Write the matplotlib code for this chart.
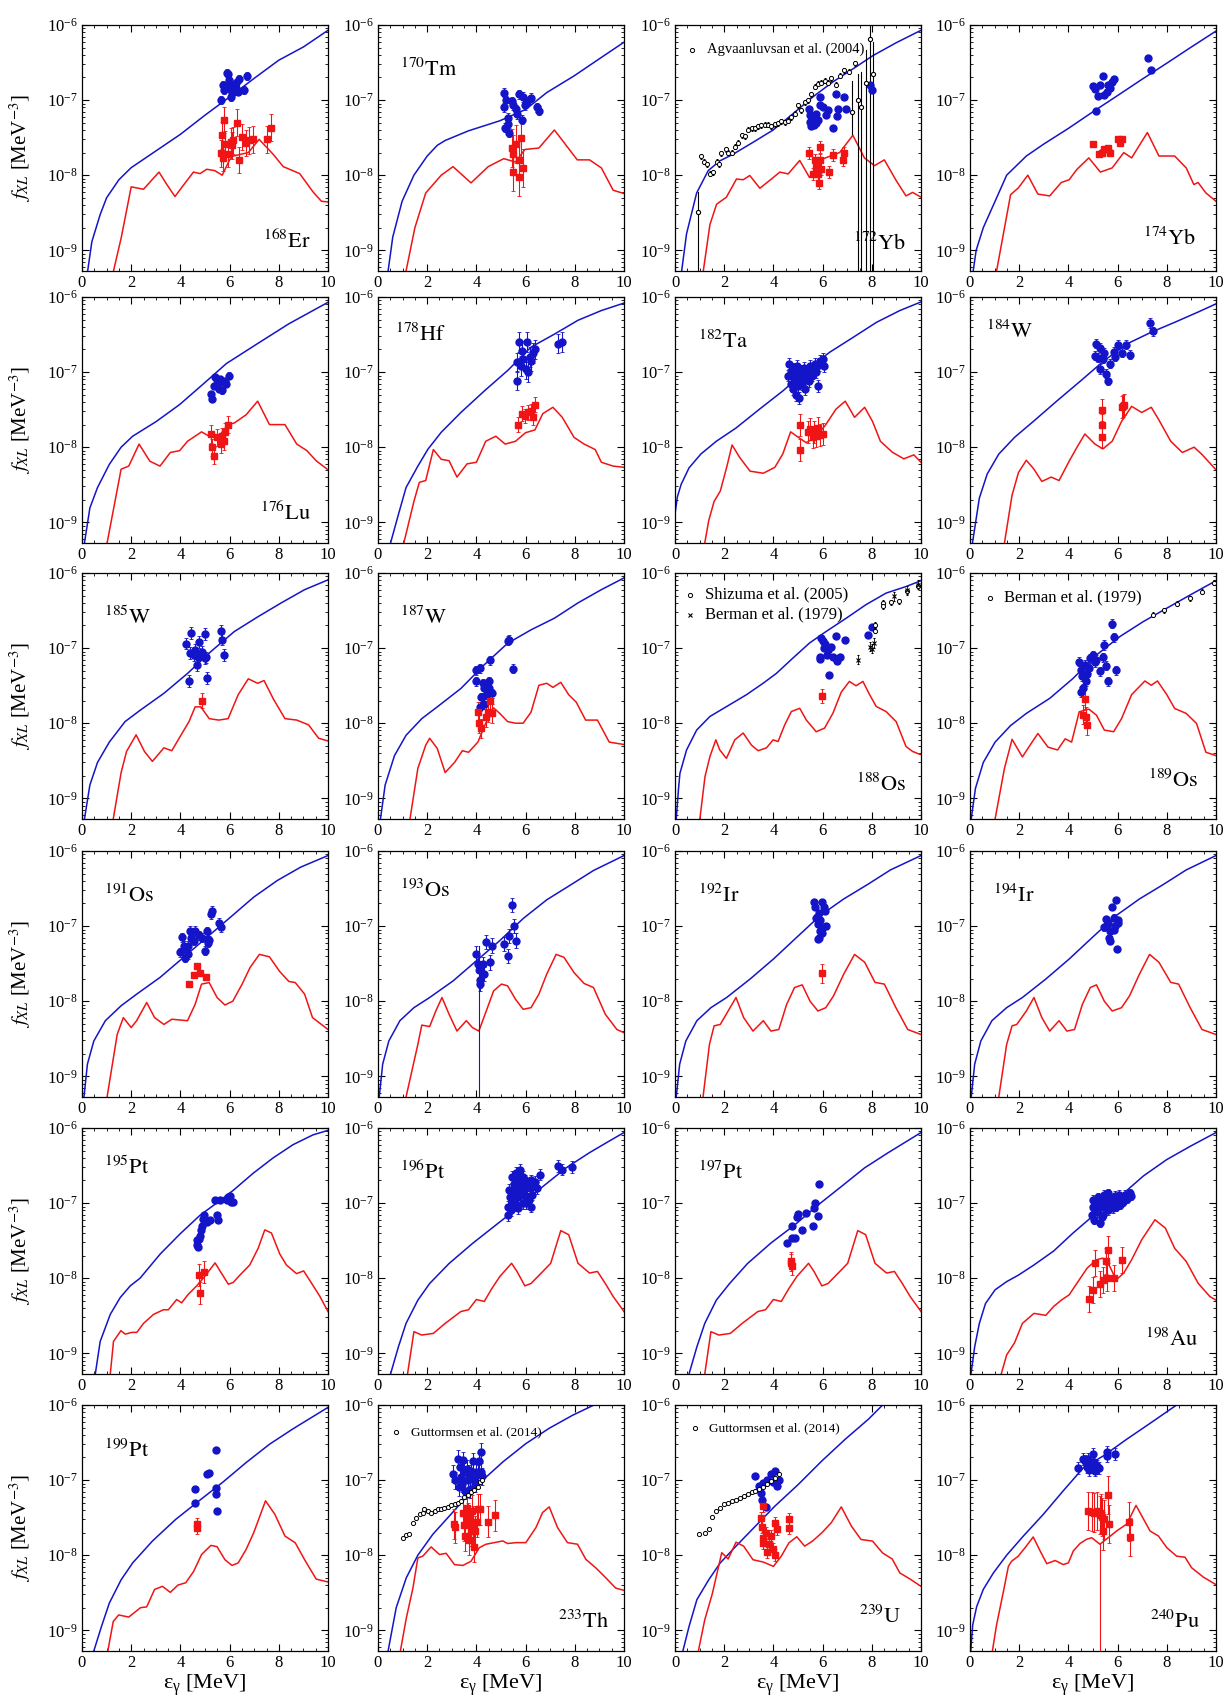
import numpy as np
import matplotlib
matplotlib.use('Agg')
import matplotlib.pyplot as plt
from matplotlib.ticker import MultipleLocator, LogLocator, NullFormatter, FixedLocator

plt.rcParams['font.family'] = ['Liberation Serif', 'DejaVu Serif']
plt.rcParams['mathtext.fontset'] = 'stix'

BLUE = '#1414c8'
RED = '#f01414'
YMIN, YMAX = 5.3e-10, 1e-6

# ---------------- data: (E [MeV], f [MeV^-3]) ----------------
# 168Er
er168_e1 = [(0.23, 5.3e-10), (0.4, 1.3e-9), (0.74, 3e-9), (1.0, 5e-9), (1.5, 8.7e-9), (2.0, 1.26e-8), (3.0, 2.1e-8),
            (4.0, 3.5e-8), (5.0, 6.3e-8), (6.0, 1.1e-7), (7.0, 1.95e-7), (8.0, 3.4e-7), (9.0, 5.1e-7), (10, 8.5e-7)]
er168_m1 = [(1.28, 5.3e-10), (1.6, 1.5e-9), (2.0, 7e-9), (2.5, 6.5e-9), (3.13, 1.1e-8), (3.45, 7.5e-9), (3.78, 5.2e-9),
            (4.1, 7.2e-9), (4.53, 1.1e-8), (4.8, 1.05e-8), (5.07, 1.2e-8), (5.4, 1.15e-8), (5.7, 1.0e-8), (6.0, 1.6e-8),
            (6.15, 1.8e-8), (6.76, 2.0e-8), (7.2, 3.0e-8), (7.77, 1.9e-8), (8.18, 1.3e-8), (8.85, 1.05e-8), (9.39, 6e-9),
            (9.73, 4.5e-9), (10, 4.4e-9)]
er168_blue = [(5.64, 1e-7), (5.72, 1.6e-7), (5.81, 1.55e-7), (5.88, 2.3e-7), (5.92, 2.2e-7), (5.97, 1.85e-7), (6.01, 1.45e-7),
              (6.04, 1.1e-7), (6.08, 1.55e-7), (6.15, 1.35e-7), (6.19, 1.6e-7), (6.24, 1.7e-7), (6.28, 1.45e-7),
              (6.35, 1.3e-7), (6.39, 1.9e-7), (6.58, 1.37e-7), (6.69, 2.1e-7), (5.77, 1.35e-7), (5.85, 1.45e-7),
              (5.95, 1.5e-7), (6.11, 1.25e-7)]
er168_red = [(5.64, 1.95e-8), (5.68, 3.4e-8), (5.77, 5.4e-8), (5.72, 1.7e-8), (5.81, 2.6e-8), (5.95, 1.9e-8), (6.05, 2.8e-8),
             (6.11, 2.5e-8), (6.15, 2.9e-8), (6.31, 5e-8), (6.38, 1.6e-8), (6.51, 3.2e-8), (6.66, 2.7e-8), (6.8, 2.9e-8),
             (6.96, 3e-8), (7.5, 3e-8), (7.7, 4.3e-8)]

# 170Tm
tm170_e1 = [(0.41, 5.3e-10), (0.6, 1.5e-9), (0.98, 4.5e-9), (1.46, 1e-8), (2.0, 1.8e-8), (2.41, 2.5e-8), (2.73, 2.9e-8),
            (3.68, 3.9e-8), (4.95, 5.3e-8), (6.0, 7.5e-8), (6.86, 1.26e-7), (7.97, 2.1e-7), (9.08, 3.7e-7), (10, 5.9e-7)]
tm170_m1 = [(1.14, 5.3e-10), (1.5, 2e-9), (1.94, 5.8e-9), (2.57, 1e-8), (3.05, 1.3e-8), (3.78, 7.9e-9), (4.48, 1.3e-8),
            (5.11, 1.66e-8), (5.59, 1.5e-8), (5.97, 2.2e-8), (6.54, 2.3e-8), (7.17, 4e-8), (8.1, 1.6e-8), (8.6, 1.6e-8),
            (9.08, 1.25e-8), (9.56, 6.3e-9), (10, 5.7e-9)]
tm170_blue = [(5.11, 1.26e-7), (5.11, 8e-8), (5.17, 4.3e-8), (5.27, 5.8e-8), (5.33, 3.7e-8), (5.43, 9.7e-8), (5.59, 7.5e-8),
              (5.75, 1.2e-7), (5.84, 5.5e-8), (5.97, 8.5e-8), (6.06, 9.5e-8), (6.22, 1.08e-7), (6.48, 8e-8), (6.54, 7.2e-8),
              (5.5, 8.5e-8), (5.65, 6.5e-8), (5.2, 1.0e-7), (5.9, 1.1e-7), (5.3, 4.8e-8)]
tm170_red = [(5.43, 2.3e-8), (5.49, 1.9e-8), (5.59, 2.6e-8), (5.49, 1.1e-8), (5.75, 1.6e-8), (5.81, 3.1e-8), (5.9, 1.25e-8),
             (5.75, 9.6e-9)]

# 172Yb
yb172_e1 = [(0.27, 5.3e-10), (0.47, 1.66e-9), (0.88, 5.8e-9), (1.35, 1.15e-8), (1.82, 1.55e-8), (2.36, 1.9e-8),
            (3.18, 2.75e-8), (3.99, 4e-8), (4.8, 6.6e-8), (5.6, 1.1e-7), (6.42, 1.75e-7), (7.23, 2.6e-7), (8.04, 3.9e-7),
            (8.99, 5.8e-7), (10, 8.5e-7)]
yb172_m1 = [(1.15, 5.3e-10), (1.42, 2.2e-9), (1.69, 4.1e-9), (2.09, 5.1e-9), (2.5, 8.9e-9), (2.77, 8.7e-9), (3.04, 9.9e-9),
            (3.45, 6.7e-9), (3.92, 8.9e-9), (4.26, 1.1e-8), (4.6, 1.04e-8), (5.07, 1.57e-8), (5.47, 9.3e-9), (6.01, 1.65e-8),
            (6.69, 2.0e-8), (7.23, 3.4e-8), (7.7, 1.7e-8), (8.11, 1.34e-8), (8.51, 1.6e-8), (8.99, 8.5e-9), (9.39, 5.3e-9),
            (9.66, 5.9e-9), (10, 5.1e-9)]
yb172_blue = [(5.45, 7.7e-8), (5.47, 6.4e-8), (5.5, 5.1e-8), (5.54, 4.5e-8), (5.6, 4.8e-8), (5.68, 5.6e-8), (5.74, 6.6e-8),
              (5.81, 5.4e-8), (5.88, 1.1e-7), (5.88, 8.5e-8), (6.01, 8e-8), (6.15, 6.3e-8), (6.22, 7.4e-8), (6.42, 4.3e-8),
              (6.53, 1.2e-7), (6.58, 6.2e-8), (6.62, 7.7e-8), (6.89, 1.1e-7), (6.96, 7.7e-8), (7.93, 1.6e-7), (8.01, 1.35e-7),
              (5.55, 6e-8), (5.65, 4.6e-8), (5.72, 5e-8)]
yb172_red = [(5.45, 1.95e-8), (5.6, 1.04e-8), (5.68, 1.6e-8), (5.74, 1.3e-8), (5.81, 1.05e-8), (5.85, 7.8e-9), (5.9, 2.35e-8),
             (5.88, 1.6e-8), (5.95, 1.2e-8), (6.26, 1.1e-8), (6.42, 1.85e-8), (6.82, 1.6e-8), (6.85, 2e-8)]
agv_x = [1.05, 1.18, 1.31, 1.42, 1.53, 1.69, 1.8, 1.89, 2.07, 2.16, 2.3, 2.43, 2.57, 2.74, 2.84, 2.97, 3.11, 3.24, 3.38,
         3.51, 3.65, 3.78, 3.92, 4.05, 4.19, 4.32, 4.46, 4.59, 4.73, 4.86, 5.0, 5.14, 5.27, 5.41, 5.54, 5.68, 5.81, 5.95,
         6.08, 6.22, 6.35, 6.53, 6.69, 6.89, 7.09, 7.32]
agv_y = [1.8e-8, 1.5e-8, 1.4e-8, 1.05e-8, 1.1e-8, 1.5e-8, 1.4e-8, 1.95e-8, 2.2e-8, 2.0e-8, 2.0e-8, 2.4e-8, 2.7e-8, 3.4e-8,
         3.3e-8, 4.0e-8, 4.2e-8, 4.2e-8, 4.5e-8, 4.6e-8, 4.7e-8, 4.7e-8, 4.5e-8, 4.8e-8, 4.9e-8, 5.2e-8, 5.1e-8, 5.3e-8,
         5.9e-8, 6.6e-8, 8.5e-8, 7.3e-8, 9.4e-8, 1.0e-7, 1.2e-7, 1.5e-7, 1.65e-7, 1.7e-7, 1.8e-7, 1.7e-7, 1.95e-7, 1.6e-7,
         2.1e-7, 2.5e-7, 2.4e-7, 3.1e-7]
# points with wide error bars: (E, f, lower, upper)
agv_wide = [(0.95, 3.2e-9, 4e-10, 6e-9), (7.19, 6.9e-8, 3.5e-8, 1.8e-7), (7.42, 1.0e-7, 4e-10, 2.2e-7),
            (7.58, 8.0e-8, 4e-10, 2.4e-7), (7.77, 1.7e-7, 4e-10, 4.6e-7), (7.93, 6.6e-7, 4e-10, 1e-6),
            (8.04, 2.2e-7, 4e-10, 5.9e-7)]

# 174Yb
yb174_e1 = [(0.13, 5.3e-10), (0.25, 1e-9), (0.54, 2e-9), (1.02, 4.5e-9), (1.49, 1e-8), (2.29, 1.8e-8), (3.0, 2.6e-8),
            (4.0, 4.2e-8), (5.0, 7e-8), (6.0, 1.15e-7), (7.0, 1.9e-7), (8.0, 3.1e-7), (9.0, 5.1e-7), (10, 8.3e-7)]
yb174_m1 = [(1.08, 5.3e-10), (1.65, 5.5e-9), (1.97, 6.8e-9), (2.35, 1.0e-8), (2.76, 5.6e-9), (3.24, 5.3e-9), (3.71, 8e-9),
            (4.03, 8.7e-9), (4.35, 1.2e-8), (4.83, 1.7e-8), (5.3, 1.1e-8), (5.78, 1.25e-8), (6.25, 2e-8), (6.57, 1.7e-8),
            (7.21, 3.7e-8), (7.68, 1.8e-8), (8.32, 1.8e-8), (8.79, 1.25e-8), (9.1, 7.5e-9), (9.27, 8e-9), (9.59, 5.8e-9),
            (10, 4.5e-9)]
yb174_blue = [(4.98, 1.55e-7), (5.08, 1.4e-7), (5.14, 7.2e-8), (5.2, 1.15e-7), (5.3, 1.6e-7), (5.4, 2.1e-7), (5.46, 1.17e-7),
              (5.55, 1.3e-7), (5.62, 1.6e-7), (5.71, 1.45e-7), (5.78, 1.75e-7), (5.84, 1.9e-7), (7.24, 3.6e-7), (7.37, 2.5e-7)]
yb174_red = [(4.98, 2.6e-8), (5.24, 1.9e-8), (5.35, 2.0e-8), (5.46, 2.2e-8), (5.62, 2.3e-8), (5.71, 2.0e-8), (6.03, 3.0e-8),
             (6.16, 3.0e-8), (6.1, 2.7e-8)]

# 176Lu
lu176_e1 = [(0.1, 5.3e-10), (0.32, 1.55e-9), (0.63, 2.9e-9), (1.11, 5.9e-9), (1.59, 1e-8), (2.06, 1.4e-8), (3.02, 2.2e-8),
            (3.97, 3.7e-8), (4.92, 6.9e-8), (5.87, 1.3e-7), (7.14, 2.4e-7), (8.41, 4.4e-7), (10, 8.5e-7)]
lu176_m1 = [(1.02, 5.3e-10), (1.59, 5.1e-9), (1.9, 5.6e-9), (2.32, 1.1e-8), (2.76, 6.5e-9), (3.17, 5.6e-9), (3.59, 8.5e-9),
            (3.97, 9e-9), (4.29, 1.2e-8), (4.86, 1.6e-8), (5.17, 1.4e-8), (5.56, 1.4e-8), (5.94, 2e-8), (6.19, 2.1e-8),
            (6.67, 2.7e-8), (7.14, 4.1e-8), (7.62, 2e-8), (8.25, 2e-8), (8.73, 1.1e-8), (9.14, 9e-9), (9.52, 6.6e-9),
            (10, 5e-9)]
lu176_blue = [(5.24, 5.1e-8), (5.3, 4.4e-8), (5.4, 8.5e-8), (5.49, 7e-8), (5.56, 6e-8), (5.65, 7.5e-8), (5.71, 5.7e-8),
              (5.81, 7.7e-8), (5.87, 7e-8), (5.97, 9e-8), (5.35, 6.5e-8), (5.6, 8e-8)]
lu176_red = [(5.24, 1.5e-8), (5.3, 1e-8), (5.37, 7.7e-9), (5.49, 1.35e-8), (5.65, 1.1e-8), (5.71, 1.4e-8), (5.81, 1.6e-8),
             (5.94, 2e-8), (5.78, 1.2e-8)]

# 178Hf
hf178_e1 = [(0.51, 5.3e-10), (0.83, 1.27e-9), (1.14, 2.9e-9), (1.62, 5.6e-9), (2.03, 9.4e-9), (2.57, 1.58e-8),
            (3.37, 2.9e-8), (4.32, 5.6e-8), (5.27, 1.05e-7), (6.22, 2.15e-7), (7.17, 3.2e-7), (8.13, 4.9e-7),
            (9.08, 6.6e-7), (10, 8.3e-7)]
hf178_m1 = [(1.05, 5.3e-10), (1.46, 1.9e-9), (1.68, 3.4e-9), (1.94, 3.6e-9), (2.25, 9.3e-9), (2.57, 6.9e-9), (2.89, 6.6e-9),
            (3.21, 4e-9), (3.62, 6e-9), (4.0, 6.3e-9), (4.38, 1.2e-8), (4.79, 1.4e-8), (5.17, 1.1e-8), (5.59, 1.2e-8),
            (6.0, 1.56e-8), (6.38, 1.7e-8), (6.7, 2.8e-8), (7.11, 3.4e-8), (7.49, 2.5e-8), (7.97, 1.35e-8), (8.38, 1.1e-8),
            (8.83, 9.3e-9), (9.08, 6.3e-9), (9.56, 5.6e-9), (10, 5.4e-9)]
hf178_blue = [(5.65, 1.35e-7), (5.65, 7.7e-8), (5.75, 2.5e-7), (5.84, 1.9e-7), (5.9, 1.5e-7), (6.0, 1.1e-7), (6.06, 2.5e-7),
              (6.1, 1.0e-7), (6.16, 1.6e-7), (6.29, 1.8e-7), (6.38, 2e-7), (7.33, 2.4e-7), (7.49, 2.5e-7), (5.8, 1.2e-7),
              (6.2, 1.4e-7)]
hf178_red = [(5.71, 2e-8), (5.84, 2.8e-8), (5.97, 2.6e-8), (6.1, 2.9e-8), (6.22, 3e-8), (6.38, 3.7e-8), (6.32, 2.5e-8)]

# 182Ta
ta182_e1 = [(0.0, 1.3e-9), (0.1, 2.2e-9), (0.25, 3.2e-9), (0.57, 5.3e-9), (1.05, 8.1e-9), (1.68, 1.2e-8), (2.48, 1.8e-8),
            (3.43, 3.2e-8), (4.38, 5.6e-8), (5.33, 1.05e-7), (6.29, 1.84e-7), (7.24, 2.9e-7), (8.19, 4.6e-7),
            (9.14, 6.6e-7), (10, 8.6e-7)]
ta182_m1 = [(1.21, 5.3e-10), (1.37, 1.05e-9), (1.59, 1.9e-9), (1.84, 2.6e-9), (2.1, 5.4e-9), (2.32, 1.07e-8), (2.63, 7.3e-9),
            (3.05, 4.8e-9), (3.59, 4.5e-9), (4.06, 5.4e-9), (4.38, 8.1e-9), (4.7, 1.6e-8), (5.02, 1.35e-8), (5.33, 1.15e-8),
            (5.71, 1.35e-8), (6.13, 2e-8), (6.54, 3.2e-8), (6.92, 4.1e-8), (7.3, 2.5e-8), (7.71, 3.4e-8), (8.03, 2.2e-8),
            (8.35, 1.2e-8), (8.83, 8.6e-9), (9.3, 7e-9), (9.71, 7.9e-9), (10, 6.3e-9)]
ta182_blue = [(4.6, 9e-8), (4.65, 1.3e-7), (4.7, 7e-8), (4.72, 1.0e-7), (4.78, 6e-8), (4.8, 1.1e-7), (4.85, 8.5e-8),
              (4.9, 5e-8), (4.92, 7.5e-8), (4.95, 1.2e-7), (5.0, 9.5e-8), (5.02, 6.5e-8), (5.05, 4.5e-8), (5.1, 8e-8),
              (5.12, 1.05e-7), (5.18, 7e-8), (5.2, 9e-8), (5.25, 1.15e-7), (5.3, 6e-8), (5.33, 8.5e-8), (5.4, 1.0e-7),
              (5.45, 7.5e-8), (5.5, 1.2e-7), (5.55, 9e-8), (5.6, 1.1e-7), (5.7, 1.3e-7), (5.75, 1.0e-7), (5.8, 6.5e-8),
              (5.9, 1.4e-7), (6.0, 1.5e-7), (6.05, 1.2e-7), (5.85, 1.25e-7)]
ta182_red = [(5.08, 2e-8), (5.08, 9.1e-9), (5.49, 1.75e-8), (5.59, 1.35e-8), (5.65, 1.6e-8), (5.81, 1.8e-8), (5.9, 1.45e-8),
             (6.03, 1.5e-8), (5.4, 1.6e-8), (5.75, 1.4e-8)]

# 184W
w184_e1 = [(0.1, 5.3e-10), (0.38, 2.1e-9), (0.7, 4.4e-9), (1.17, 8.1e-9), (1.81, 1.35e-8), (2.6, 2.24e-8), (3.56, 4.2e-8),
           (4.51, 7.7e-8), (5.46, 1.43e-7), (6.41, 2.4e-7), (7.37, 3.4e-7), (8.32, 4.6e-7), (9.27, 6.3e-7), (10, 8.1e-7)]
w184_m1 = [(1.4, 5.3e-10), (1.71, 2.3e-9), (1.97, 4.6e-9), (2.29, 6.7e-9), (2.6, 5.1e-9), (2.92, 3.5e-9), (3.3, 4e-9),
           (3.62, 3.6e-9), (4.03, 6.5e-9), (4.35, 1e-8), (4.67, 1.5e-8), (5.08, 1.1e-8), (5.4, 9.5e-9), (5.78, 1.2e-8),
           (6.16, 2.2e-8), (6.57, 3.5e-8), (6.98, 2.9e-8), (7.37, 3.4e-8), (7.68, 2.3e-8), (8.16, 1.2e-8), (8.63, 8.5e-9),
           (9.11, 1e-8), (9.43, 8e-9), (10, 5e-9)]
w184_blue = [(5.08, 1.65e-7), (5.14, 2.4e-7), (5.2, 1.55e-7), (5.3, 1.1e-7), (5.3, 2.1e-7), (5.4, 1.5e-7), (5.52, 9.5e-8),
             (5.62, 7.7e-8), (5.7, 1.3e-7), (5.84, 1.85e-7), (6.03, 2.3e-7), (6.16, 1.8e-7), (6.35, 2.3e-7), (6.51, 1.7e-7),
             (7.3, 4.5e-7), (7.43, 3.5e-7), (5.9, 1.6e-7), (5.45, 1.8e-7)]
w184_red = [(5.37, 3.1e-8), (5.37, 2e-8), (5.37, 1.35e-8), (6.16, 3.4e-8), (6.25, 3.7e-8), (6.2, 3.5e-8)]

# 185W
w185_e1 = [(0.1, 5.3e-10), (0.32, 1.5e-9), (0.63, 3.0e-9), (1.11, 5.6e-9), (1.75, 1.05e-8), (2.38, 1.5e-8), (3.33, 2.5e-8),
           (4.29, 4.6e-8), (5.24, 9e-8), (6.19, 1.66e-7), (7.14, 2.6e-7), (8.1, 4e-7), (9.05, 6e-7), (10, 8.1e-7)]
w185_m1 = [(1.27, 5.3e-10), (1.59, 2.2e-9), (1.81, 4.2e-9), (2.2, 7e-9), (2.54, 4.2e-9), (2.86, 3.1e-9), (3.33, 4.7e-9),
           (3.65, 4.3e-9), (4.03, 7e-9), (4.35, 1.05e-8), (4.6, 1.65e-8), (4.83, 1.65e-8), (5.17, 1.15e-8), (5.56, 1.1e-8),
           (5.94, 1.15e-8), (6.35, 2.4e-8), (6.76, 3.9e-8), (7.14, 3.4e-8), (7.4, 3.7e-8), (7.78, 2.1e-8), (8.25, 1.15e-8),
           (8.73, 1.1e-8), (9.21, 9.5e-9), (9.62, 6.3e-9), (10, 5.8e-9)]
w185_blue = [(4.22, 1.15e-7), (4.35, 3.6e-8), (4.44, 1.6e-7), (4.41, 8.5e-8), (4.54, 8e-8), (4.6, 9.5e-8), (4.67, 6e-8),
             (4.76, 1.2e-7), (4.7, 7.5e-8), (4.86, 9e-8), (4.98, 7.3e-8), (4.98, 1.55e-7), (5.08, 4e-8), (5.05, 7.5e-8),
             (5.65, 1.7e-7), (5.71, 1.3e-7), (5.78, 8e-8)]
w185_red = [(4.86, 2e-8)]

# 187W
w187_e1 = [(0.1, 5.3e-10), (0.29, 1.5e-9), (0.67, 3.7e-9), (1.14, 6.9e-9), (1.78, 1.15e-8), (2.41, 1.65e-8), (3.37, 2.9e-8),
           (4.32, 6e-8), (5.27, 1.16e-7), (6.22, 1.75e-7), (7.17, 2.5e-7), (8.13, 4e-7), (9.08, 6e-7), (10, 8.6e-7)]
w187_m1 = [(1.3, 5.3e-10), (1.62, 2.5e-9), (1.94, 5.1e-9), (2.1, 6.3e-9), (2.41, 4.6e-9), (2.73, 2.2e-9), (3.11, 3e-9),
           (3.43, 4.3e-9), (3.68, 4.1e-9), (4.06, 5.6e-9), (4.38, 1e-8), (4.7, 1.6e-8), (4.95, 1.35e-8), (5.27, 1.05e-8),
           (5.59, 1e-8), (5.9, 1.0e-8), (6.22, 1.4e-8), (6.54, 3.2e-8), (6.86, 3.4e-8), (7.11, 3e-8), (7.43, 3.5e-8),
           (7.75, 2.4e-8), (8.06, 1.9e-8), (8.44, 1.1e-8), (8.92, 1.1e-8), (9.4, 5.6e-9), (10, 5.2e-9)]
w187_blue = [(4.0, 5.1e-8), (4.0, 3.6e-8), (4.16, 5.4e-8), (4.25, 3.4e-8), (4.32, 2.9e-8), (4.38, 2.4e-8), (4.44, 3.2e-8),
             (4.51, 3.6e-8), (4.57, 6.9e-8), (4.63, 2.5e-8), (4.16, 1.65e-8), (4.32, 1.8e-8), (5.27, 1.25e-7),
             (5.33, 1.3e-7), (5.5, 5.3e-8), (4.2, 2.2e-8), (4.5, 2.9e-8)]
w187_red = [(4.06, 1.4e-8), (4.1, 1e-8), (4.19, 8.5e-9), (4.38, 1.2e-8), (4.48, 1.4e-8), (4.57, 2e-8), (4.63, 1.35e-8)]

# 188Os
os188_e1 = [(0.05, 5.3e-10), (0.14, 1.3e-9), (0.2, 2.15e-9), (0.47, 4.4e-9), (0.88, 8.1e-9), (1.42, 1.23e-8),
            (2.09, 1.66e-8), (2.91, 2.4e-8), (3.58, 3.4e-8), (4.12, 4.6e-8), (4.8, 7.4e-8), (5.47, 1.17e-7),
            (6.15, 1.67e-7), (6.96, 2.5e-7), (7.77, 3.8e-7), (8.58, 5.4e-7), (9.39, 6.6e-7), (10, 7.9e-7)]
os188_m1 = [(1.01, 5.3e-10), (1.22, 1.95e-9), (1.42, 3.6e-9), (1.66, 6e-9), (1.82, 4.4e-9), (2.09, 3.4e-9), (2.43, 6e-9),
            (2.77, 7.4e-9), (3.11, 5.1e-9), (3.38, 4.3e-9), (3.72, 4.7e-9), (3.99, 6e-9), (4.19, 5.7e-9), (4.46, 9.5e-9),
            (4.73, 1.43e-8), (5.07, 1.58e-8), (5.34, 1.1e-8), (5.74, 7.7e-9), (6.08, 8.6e-9), (6.42, 1.36e-8),
            (6.76, 2.6e-8), (7.09, 3.6e-8), (7.36, 3.15e-8), (7.64, 3.6e-8), (7.91, 2.4e-8), (8.18, 1.67e-8),
            (8.58, 1.43e-8), (8.99, 1.05e-8), (9.39, 4.9e-9), (9.66, 4.2e-9), (10, 3.8e-9)]
os188_blue = [(5.88, 7.7e-8), (5.9, 7.2e-8), (5.95, 1.36e-7), (6.01, 1.23e-7), (6.04, 1.0e-7), (6.1, 1.15e-7), (6.15, 1.05e-7),
              (6.18, 8.1e-8), (6.22, 9.5e-8), (6.26, 4.4e-8), (6.35, 1.05e-7), (6.42, 7.7e-8), (6.55, 1.45e-7),
              (6.58, 6.8e-8), (6.72, 7.7e-8), (6.92, 1.3e-7), (7.84, 1.5e-7), (8.01, 1.9e-7)]
os188_red = [(5.97, 2.3e-8)]
shiz_x = [8.11, 8.15, 8.45, 8.45, 8.78, 9.12, 9.42, 9.89]
shiz_y = [1.7e-7, 2.05e-7, 4e-7, 3.6e-7, 4.1e-7, 4.2e-7, 5.7e-7, 6.8e-7]
berm188_x = [7.42, 7.93, 8.01, 8.08, 8.92, 9.42, 9.89]
berm188_y = [7e-8, 1.05e-7, 9.8e-8, 1.17e-7, 4.9e-7, 5.9e-7, 7e-7]

# 189Os
os189_e1 = [(0.05, 5.3e-10), (0.22, 1.35e-9), (0.54, 3e-9), (1.02, 5.6e-9), (1.65, 9.3e-9), (2.29, 1.35e-8), (3.24, 2.14e-8),
            (4.19, 3.95e-8), (5.14, 8.1e-8), (6.1, 1.43e-7), (7.05, 2.26e-7), (8.0, 3.4e-7), (8.95, 5.1e-7), (10, 7.9e-7)]
os189_m1 = [(1.02, 5.3e-10), (1.4, 2.5e-9), (1.71, 6.1e-9), (2.13, 3.55e-9), (2.35, 4.6e-9), (2.76, 7.3e-9), (3.17, 4.8e-9),
            (3.56, 4.4e-9), (3.87, 6.2e-9), (4.13, 5.6e-9), (4.44, 1.42e-8), (4.83, 1.54e-8), (5.14, 1.28e-8),
            (5.46, 8.1e-9), (5.84, 7.7e-9), (6.16, 1.15e-8), (6.57, 2.4e-8), (7.11, 3.65e-8), (7.37, 3.2e-8),
            (7.62, 3.65e-8), (8.0, 2.4e-8), (8.32, 1.57e-8), (8.79, 1.35e-8), (9.21, 9.9e-9), (9.59, 4.1e-9), (10, 3.7e-9)]
os189_blue = [(4.44, 6.6e-8), (4.51, 5.1e-8), (4.57, 4.2e-8), (4.6, 2.9e-8), (4.67, 6e-8), (4.7, 3.6e-8), (4.76, 4.5e-8),
              (4.83, 5.4e-8), (4.89, 7.3e-8), (4.98, 8e-8), (5.08, 6.5e-8), (5.14, 7e-8), (5.3, 4.9e-8), (5.4, 7.5e-8),
              (5.46, 1.1e-7), (5.52, 5.8e-8), (5.62, 3.6e-8), (5.78, 2.1e-7), (5.84, 1.4e-7), (5.94, 5.1e-8),
              (4.51, 2.6e-8)]
os189_red = [(4.67, 2.1e-8), (4.6, 1.3e-8), (4.76, 9.5e-9), (4.7, 1.2e-8)]
berm189_x = [7.43, 7.9, 8.41, 8.95, 9.43, 9.9]
berm189_y = [2.8e-7, 3.2e-7, 3.9e-7, 4.6e-7, 5.6e-7, 7.4e-7]

# 191Os
os191_e1 = [(0.08, 5.3e-10), (0.22, 1.45e-9), (0.48, 2.95e-9), (0.95, 5.5e-9), (1.59, 8.7e-9), (2.22, 1.24e-8),
            (3.17, 2.07e-8), (4.13, 3.84e-8), (5.08, 7.1e-8), (6.03, 1.31e-7), (6.98, 2.43e-7), (7.94, 4.05e-7),
            (8.89, 6.1e-7), (10, 8.7e-7)]
os191_m1 = [(1.02, 5.3e-10), (1.43, 3.6e-9), (1.68, 6.05e-9), (2.0, 4.45e-9), (2.22, 5.5e-9), (2.63, 9.6e-9), (2.95, 6.05e-9),
            (3.33, 4.9e-9), (3.65, 5.75e-9), (4.03, 5.6e-9), (4.29, 5.5e-9), (4.6, 9.1e-9), (4.86, 1.69e-8),
            (5.17, 1.77e-8), (5.49, 1.12e-8), (5.81, 8.9e-9), (6.13, 1.0e-8), (6.51, 1.69e-8), (6.83, 2.8e-8),
            (7.21, 4.2e-8), (7.62, 3.9e-8), (8.03, 2.5e-8), (8.41, 1.83e-8), (8.67, 1.77e-8), (9.05, 1.24e-8),
            (9.37, 6.05e-9), (10, 4.2e-9)]
os191_blue = [(3.97, 4.5e-8), (4.06, 7.1e-8), (4.13, 5.5e-8), (4.19, 3.8e-8), (4.22, 4.9e-8), (4.29, 5.5e-8), (4.38, 8.7e-8),
              (4.44, 7e-8), (4.54, 6.4e-8), (4.6, 8.7e-8), (4.76, 7.5e-8), (4.86, 7e-8), (4.98, 4.7e-8), (5.08, 8.5e-8),
              (5.17, 6.5e-8), (5.24, 1.45e-7), (5.3, 1.6e-7), (5.56, 1.1e-7), (5.65, 9.7e-8), (5.08, 6.8e-8), (4.3, 4.2e-8),
              (5.12, 6e-8)]
os191_red = [(4.35, 1.7e-8), (4.54, 2.2e-8), (4.67, 2.9e-8), (4.79, 2.4e-8), (5.05, 2.1e-8)]

# 193Os
os193_e1 = [(0.05, 5.3e-10), (0.19, 1.45e-9), (0.44, 2.95e-9), (0.89, 5.5e-9), (1.46, 8.2e-9), (2.1, 1.12e-8),
            (3.05, 1.86e-8), (4.0, 3.45e-8), (4.95, 6.4e-8), (5.9, 1.26e-7), (6.86, 2.24e-7), (7.81, 3.5e-7),
            (8.76, 5.5e-7), (10, 8.7e-7)]
os193_m1 = [(1.14, 5.3e-10), (1.62, 2.66e-9), (1.78, 4.8e-9), (2.1, 4.6e-9), (2.35, 7.4e-9), (2.6, 1.12e-8), (2.89, 6.7e-9),
            (3.21, 4.0e-9), (3.59, 5.5e-9), (3.84, 4.45e-9), (4.1, 4.0e-9), (4.38, 7.1e-9), (4.7, 1.37e-8),
            (5.02, 1.69e-8), (5.27, 1.6e-8), (5.59, 1.06e-8), (5.9, 7.8e-9), (6.22, 8.2e-9), (6.54, 1.24e-8),
            (6.86, 2.3e-8), (7.24, 4.2e-8), (7.56, 3.84e-8), (7.97, 2.4e-8), (8.38, 1.72e-8), (8.76, 1.52e-8),
            (9.24, 6.7e-9), (9.71, 4.2e-9), (10, 3.8e-9)]
os193_blue = [(4.0, 4.3e-8), (4.06, 3.1e-8), (4.16, 1.9e-8), (4.16, 1.7e-8), (4.25, 3.1e-8), (4.32, 2.3e-8), (4.38, 6.1e-8),
              (4.54, 3.3e-8), (4.63, 5.5e-8), (5.11, 5.8e-8), (5.27, 4e-8), (5.33, 7.4e-8), (5.43, 1.9e-7), (5.52, 1.0e-7),
              (5.59, 6.4e-8)]
os193_wide = [(4.1, 2.6e-8, 4e-10, 5.5e-8)]

# 192Ir
ir192_e1 = [(0.05, 5.3e-10), (0.19, 1.45e-9), (0.44, 2.95e-9), (0.89, 5.5e-9), (1.46, 8.2e-9), (2.1, 1.12e-8),
            (3.05, 1.97e-8), (4.0, 3.64e-8), (4.95, 7.1e-8), (5.9, 1.38e-7), (6.86, 2.3e-7), (7.81, 3.55e-7),
            (8.76, 5.6e-7), (10, 8.7e-7)]
ir192_m1 = [(1.14, 5.3e-10), (1.4, 2.66e-9), (1.59, 4.7e-9), (1.84, 4.9e-9), (2.16, 7.4e-9), (2.48, 1.12e-8), (2.79, 6.05e-9),
            (3.17, 4e-9), (3.59, 5.5e-9), (3.9, 4e-9), (4.22, 4.2e-9), (4.54, 9.1e-9), (4.86, 1.52e-8), (5.17, 1.65e-8),
            (5.49, 1.0e-8), (5.81, 7.4e-9), (6.13, 8.2e-9), (6.44, 1.17e-8), (6.86, 2.3e-8), (7.3, 4.2e-8), (7.71, 3.3e-8),
            (8.13, 1.78e-8), (8.51, 1.69e-8), (8.98, 8.2e-9), (9.46, 4.2e-9), (10, 3.6e-9)]
ir192_blue = [(5.65, 2.1e-7), (5.71, 1.8e-7), (5.75, 1.3e-7), (5.81, 1.07e-7), (5.87, 1.5e-7), (5.9, 8.7e-8), (5.81, 6.7e-8),
              (5.97, 2.1e-7), (6.03, 9.6e-8), (6.06, 1.8e-7), (6.13, 1.0e-7), (5.84, 7e-8), (5.97, 8.2e-8), (5.9, 1.2e-7),
              (6.1, 1.6e-7)]
ir192_red = [(5.97, 2.35e-8)]

# 194Ir
ir194_e1 = [(0.05, 5.3e-10), (0.19, 1.45e-9), (0.44, 2.95e-9), (0.89, 5.5e-9), (1.49, 8.2e-9), (2.13, 1.12e-8),
            (3.08, 1.97e-8), (4.03, 3.64e-8), (4.98, 7.1e-8), (5.94, 1.38e-7), (6.89, 2.3e-7), (7.84, 3.55e-7),
            (8.79, 5.6e-7), (10, 8.7e-7)]
ir194_m1 = [(1.17, 5.3e-10), (1.49, 2.66e-9), (1.71, 4.7e-9), (1.9, 4.9e-9), (2.29, 7.4e-9), (2.6, 1.12e-8), (2.92, 6.05e-9),
            (3.24, 4e-9), (3.62, 5.5e-9), (3.94, 4e-9), (4.25, 4.2e-9), (4.57, 9.1e-9), (4.89, 1.52e-8), (5.14, 1.65e-8),
            (5.46, 1.0e-8), (5.78, 7.4e-9), (6.16, 8.2e-9), (6.48, 1.17e-8), (6.89, 2.3e-8), (7.3, 4.2e-8), (7.68, 3.3e-8),
            (8.16, 1.78e-8), (8.48, 1.69e-8), (8.95, 8.2e-9), (9.43, 4.2e-9), (10, 3.6e-9)]
ir194_blue = [(5.46, 9.6e-8), (5.52, 1.25e-7), (5.62, 1.1e-7), (5.65, 7e-8), (5.71, 8.7e-8), (5.78, 1.8e-7), (5.84, 1.3e-7),
              (5.9, 1.0e-7), (5.94, 2.2e-7), (6.03, 1.2e-7), (5.97, 4.9e-8), (5.71, 6.4e-8), (5.84, 9e-8), (5.55, 1.05e-7),
              (6.0, 1.1e-7)]

# 195Pt
pt195_e1 = [(0.54, 5.3e-10), (0.74, 1.44e-9), (1.15, 3.3e-9), (1.55, 5.5e-9), (1.96, 7.9e-9), (2.36, 1e-8), (3.18, 2.1e-8),
            (3.99, 3.9e-8), (4.8, 6.9e-8), (5.47, 1e-7), (6.15, 1.48e-7), (6.96, 2.5e-7), (7.77, 4e-7), (8.58, 6e-7),
            (9.39, 8.1e-7), (10, 9.3e-7)]
pt195_m1 = [(1.15, 5.3e-10), (1.28, 1.44e-9), (1.58, 2.0e-9), (1.76, 1.8e-9), (2.03, 1.9e-9), (2.23, 1.9e-9), (2.5, 2.5e-9),
            (2.91, 3.3e-9), (3.31, 3.8e-9), (3.51, 3.8e-9), (3.85, 5.2e-9), (4.05, 4.7e-9), (4.32, 6.1e-9), (4.66, 7.9e-9),
            (4.93, 1.0e-8), (5.2, 1.3e-8), (5.41, 1.6e-8), (5.61, 1.25e-8), (5.95, 8.3e-9), (6.15, 8.8e-9), (6.42, 1.1e-8),
            (6.82, 1.5e-8), (7.16, 2.5e-8), (7.43, 4.4e-8), (7.7, 4e-8), (8.04, 2.1e-8), (8.31, 1.5e-8), (8.72, 1.15e-8),
            (9.01, 1.25e-8), (9.32, 8.7e-9), (9.66, 5.8e-9), (10, 3.6e-9)]
pt195_blue = [(4.66, 3.2e-8), (4.69, 2.8e-8), (4.73, 2.6e-8), (4.76, 3.3e-8), (4.8, 3.7e-8), (4.84, 4.4e-8), (4.88, 5e-8),
              (4.93, 6.2e-8), (4.96, 6.9e-8), (5.01, 5.8e-8), (5.09, 5.6e-8), (5.2, 5.9e-8), (5.41, 1.1e-7), (5.47, 7e-8),
              (5.54, 6e-8), (5.61, 1.1e-7), (5.88, 1.1e-7), (5.95, 1.2e-7), (6.01, 1.25e-7), (6.05, 1.03e-7),
              (6.12, 1.03e-7)]
pt195_red = [(4.76, 1.1e-8), (4.8, 6.4e-9), (4.96, 1.2e-8)]

# 196Pt
pt196_e1 = [(0.51, 5.3e-10), (0.83, 1.22e-9), (1.14, 2.5e-9), (1.62, 5.1e-9), (2.1, 8.5e-9), (2.89, 1.57e-8), (3.84, 2.9e-8),
            (4.79, 5.1e-8), (5.75, 9e-8), (6.7, 1.66e-7), (7.65, 2.95e-7), (8.6, 4.7e-7), (9.4, 6.7e-7), (10, 8.7e-7)]
pt196_m1 = [(1.2, 5.3e-10), (1.46, 1.94e-9), (1.78, 1.75e-9), (2.25, 1.84e-9), (2.73, 2.5e-9), (3.37, 3.6e-9), (3.68, 3.8e-9),
            (4.0, 5.2e-9), (4.32, 4.9e-9), (4.63, 7.3e-9), (4.95, 1.05e-8), (5.43, 1.58e-8), (5.65, 1.23e-8),
            (5.97, 7.9e-9), (6.22, 8.5e-9), (6.7, 1.23e-8), (7.02, 1.58e-8), (7.43, 4.3e-8), (7.75, 3.8e-8),
            (8.13, 1.58e-8), (8.6, 1.17e-8), (8.92, 1.23e-8), (9.24, 8.5e-9), (9.56, 5.7e-9), (10, 3.6e-9)]
pt196_blue = [(5.27, 7e-8), (5.3, 9e-8), (5.33, 1.5e-7), (5.38, 1.2e-7), (5.43, 2.2e-7), (5.45, 1.05e-7), (5.5, 1.4e-7),
              (5.52, 1.8e-7), (5.55, 1.1e-7), (5.59, 2.5e-7), (5.62, 1.6e-7), (5.65, 1.2e-7), (5.68, 1.9e-7),
              (5.71, 1.45e-7), (5.75, 2.1e-7), (5.78, 2.8e-7), (5.8, 1.3e-7), (5.84, 1.7e-7), (5.88, 2.2e-7), (5.9, 1.0e-7),
              (5.95, 1.5e-7), (5.97, 2e-7), (6.02, 1.25e-7), (6.08, 1.8e-7), (6.12, 1.1e-7), (6.16, 1.6e-7), (6.22, 2.0e-7),
              (6.28, 1.3e-7), (6.32, 1.7e-7), (6.4, 1.9e-7), (6.48, 1.6e-7), (6.6, 2.4e-7), (7.33, 3.1e-7), (7.49, 2.8e-7),
              (7.87, 3e-7), (5.4, 8e-8), (5.6, 9.5e-8), (5.7, 8.5e-8), (6.0, 1.0e-7), (6.2, 9e-8)]

# 197Pt
pt197_e1 = [(0.57, 5.3e-10), (0.89, 1.22e-9), (1.21, 2.5e-9), (1.68, 5.1e-9), (2.22, 8.5e-9), (2.95, 1.57e-8),
            (3.9, 2.94e-8), (4.86, 5.1e-8), (5.81, 9.4e-8), (6.76, 1.66e-7), (7.71, 2.95e-7), (8.67, 4.7e-7), (10, 8.7e-7)]
pt197_m1 = [(1.21, 5.3e-10), (1.46, 1.94e-9), (1.78, 1.75e-9), (2.25, 1.84e-9), (2.73, 2.5e-9), (3.37, 3.6e-9),
            (3.68, 3.8e-9), (4.0, 5.2e-9), (4.32, 4.9e-9), (4.63, 7.3e-9), (4.95, 1.05e-8), (5.43, 1.58e-8),
            (5.65, 1.23e-8), (5.97, 7.9e-9), (6.22, 8.5e-9), (6.7, 1.23e-8), (7.02, 1.58e-8), (7.43, 4.3e-8),
            (7.75, 3.8e-8), (8.13, 1.58e-8), (8.6, 1.17e-8), (8.92, 1.23e-8), (9.24, 8.5e-9), (9.56, 5.7e-9), (10, 3.6e-9)]
pt197_blue = [(4.54, 2.9e-8), (4.76, 3.4e-8), (4.76, 5e-8), (4.86, 3.4e-8), (4.95, 6.5e-8), (5.02, 7.1e-8), (5.17, 4.4e-8),
              (5.33, 7.4e-8), (5.59, 5e-8), (5.65, 8.5e-8), (5.71, 1e-7), (5.81, 6.7e-8), (5.87, 1.8e-7)]
pt197_red = [(4.7, 1.7e-8), (4.76, 1.45e-8), (4.73, 1.6e-8)]

# 198Au
au198_e1 = [(0.04, 5.3e-10), (0.19, 1.22e-9), (0.38, 2.5e-9), (0.63, 4.6e-9), (1.02, 7e-9), (1.49, 9e-9), (1.97, 1.1e-8),
            (2.6, 1.5e-8), (3.4, 2.3e-8), (4.19, 4e-8), (5.14, 7.4e-8), (6.1, 1.23e-7), (7.05, 2.3e-7), (8.0, 3.8e-7),
            (8.95, 5.7e-7), (10, 8.7e-7)]
au198_m1 = [(1.27, 5.3e-10), (1.49, 9.5e-10), (1.81, 1.38e-9), (2.13, 2.5e-9), (2.6, 3.4e-9), (3.08, 3.2e-9), (3.4, 4.2e-9),
            (3.71, 5.1e-9), (4.03, 6e-9), (4.35, 8.6e-9), (4.76, 1.36e-8), (5.14, 1.76e-8), (5.4, 1.85e-8),
            (5.62, 1.58e-8), (5.94, 9.5e-9), (6.25, 1.17e-8), (6.57, 1.76e-8), (6.98, 3.25e-8), (7.52, 6e-8),
            (7.94, 4.65e-8), (8.32, 2.5e-8), (8.79, 1.67e-8), (9.27, 8.6e-9), (9.75, 5.7e-9), (10, 5.1e-9)]
au198_blue = [(4.95, 7e-8), (4.98, 9e-8), (5.0, 1.1e-7), (5.05, 6e-8), (5.08, 8e-8), (5.12, 1.0e-7), (5.15, 7.5e-8),
              (5.2, 1.2e-7), (5.25, 8.5e-8), (5.3, 5.5e-8), (5.33, 9.5e-8), (5.38, 1.1e-7), (5.42, 7e-8), (5.45, 1.3e-7),
              (5.5, 9e-8), (5.55, 1.05e-7), (5.6, 8e-8), (5.65, 1.2e-7), (5.7, 9.5e-8), (5.75, 1.15e-7), (5.8, 8.5e-8),
              (5.85, 1.0e-7), (5.9, 1.25e-7), (5.95, 9e-8), (6.0, 1.1e-7), (6.05, 1.3e-7), (6.1, 9.5e-8), (6.15, 1.2e-7),
              (6.2, 1.05e-7), (6.3, 1.3e-7), (6.4, 1.15e-7), (6.5, 1.35e-7), (6.55, 1.25e-7), (5.35, 6.5e-8),
              (5.6, 1.35e-7)]
au198_red = [(4.83, 5.3e-9), (4.98, 7e-9), (5.08, 1.6e-8), (5.3, 8.3e-9), (5.4, 9.5e-9), (5.52, 1.7e-8), (5.62, 2.4e-8),
             (5.56, 1e-8), (5.84, 1e-8), (6.16, 1.75e-8)]

# 199Pt
pt199_e1 = [(0.48, 5.3e-10), (0.79, 1.12e-9), (1.11, 2.3e-9), (1.59, 4.7e-9), (2.06, 7.9e-9), (2.86, 1.54e-8), (3.81, 3e-8),
            (4.76, 5.3e-8), (5.71, 9.3e-8), (6.67, 1.71e-7), (7.62, 3e-7), (8.57, 4.8e-7), (10, 9.3e-7)]
pt199_m1 = [(1.05, 5.3e-10), (1.27, 1.31e-9), (1.49, 1.6e-9), (1.9, 1.5e-9), (2.38, 2e-9), (2.63, 2.05e-9), (2.95, 3.5e-9),
            (3.27, 3.85e-9), (3.59, 3.2e-9), (3.9, 4e-9), (4.22, 4.3e-9), (4.54, 6.1e-9), (4.86, 1.02e-8), (5.24, 1.35e-8),
            (5.49, 1.3e-8), (5.81, 8.7e-9), (6.1, 7.3e-9), (6.35, 7.9e-9), (6.67, 1.19e-8), (6.98, 1.99e-8),
            (7.46, 5.3e-8), (7.84, 3.5e-8), (8.25, 1.8e-8), (8.67, 1.46e-8), (9.05, 8.7e-9), (9.52, 4.8e-9), (10, 4.4e-9)]
pt199_blue = [(4.6, 5e-8), (4.6, 7.7e-8), (5.08, 1.2e-7), (5.17, 1.25e-7), (5.46, 2.5e-7), (5.46, 7.9e-8), (5.46, 6.5e-8),
              (5.49, 3.9e-8)]
pt199_red = [(4.67, 2.6e-8), (4.67, 2.3e-8)]

# 233Th
th233_e1 = [(0.41, 5.3e-10), (0.74, 2e-9), (1.15, 5e-9), (1.62, 1e-8), (2.23, 1.9e-8), (2.91, 3.35e-8), (3.58, 5.9e-8),
            (4.26, 1e-7), (5.07, 1.74e-7), (6.01, 3.06e-7), (6.96, 4.9e-7), (7.91, 7.3e-7), (8.78, 1e-6), (10, 1.5e-6)]
th233_m1 = [(0.91, 5.3e-10), (1.15, 1.45e-9), (1.42, 3.65e-9), (1.62, 9.2e-9), (1.82, 9.7e-9), (2.16, 1.29e-8),
            (2.5, 1.02e-8), (2.77, 1.06e-8), (3.11, 7.5e-9), (3.45, 7.3e-9), (3.78, 8.3e-9), (4.12, 1.26e-8), (4.39, 1.4e-8),
            (4.73, 1.47e-8), (5.07, 1.55e-8), (5.27, 1.43e-8), (5.61, 1.47e-8), (6.01, 1.47e-8), (6.42, 2.33e-8),
            (6.69, 3.7e-8), (6.96, 4.4e-8), (7.3, 2.33e-8), (7.7, 1.47e-8), (8.11, 1.4e-8), (8.45, 8.8e-9), (8.85, 6.8e-9),
            (9.26, 5e-9), (9.66, 3.65e-9), (10, 3.4e-9)]
th233_blue = [(3.04, 1.21e-7), (3.15, 1e-7), (3.24, 1.93e-7), (3.28, 8e-8), (3.34, 1.49e-7), (3.38, 1.09e-7), (3.42, 8.9e-8),
              (3.47, 1.83e-7), (3.51, 1.28e-7), (3.55, 7.2e-8), (3.6, 1.41e-7), (3.65, 1e-7), (3.69, 1.21e-7),
              (3.74, 7.6e-8), (3.8, 1.34e-7), (3.85, 1.78e-7), (3.89, 1.04e-7), (3.95, 8.9e-8), (3.99, 1.28e-7),
              (4.05, 1.21e-7), (4.12, 1.78e-7), (4.19, 1.28e-7), (4.23, 1.12e-7), (4.2, 2.37e-7)]
th233_red = [(3.07, 2.6e-8), (3.11, 2.35e-8), (3.47, 3.7e-8), (3.51, 2.5e-8), (3.55, 1.8e-8), (3.61, 4.3e-8), (3.66, 3.1e-8),
             (3.72, 2.6e-8), (3.77, 2.1e-8), (3.82, 3.9e-8), (3.88, 2.8e-8), (3.92, 1.3e-8), (3.96, 2.1e-8), (4.01, 2.8e-8),
             (4.08, 4.1e-8), (4.15, 4.1e-8), (4.46, 2.8e-8), (4.77, 3.4e-8), (3.7, 1.6e-8), (3.85, 2.3e-8)]
gut233_x = [1.01, 1.15, 1.28, 1.42, 1.55, 1.69, 1.82, 1.89, 2.03, 2.16, 2.3, 2.43, 2.57, 2.7, 2.84, 2.97, 3.11, 3.24, 3.38,
            3.51, 3.65, 3.78, 3.92, 4.05, 4.15, 4.23]
gut233_y = [1.7e-8, 1.85e-8, 1.9e-8, 2.7e-8, 3.1e-8, 3.5e-8, 3.7e-8, 4.1e-8, 3.9e-8, 3.7e-8, 3.9e-8, 4.1e-8, 4.1e-8, 4.3e-8,
            4.4e-8, 4.6e-8, 4.8e-8, 5e-8, 5.3e-8, 5.9e-8, 6.4e-8, 6.9e-8, 7.4e-8, 8.1e-8, 9.3e-8, 1e-7]

# 239U
u239_e1 = [(0.32, 5.3e-10), (0.57, 1.12e-9), (0.89, 2.56e-9), (1.37, 4.7e-9), (1.84, 7.9e-9), (2.48, 1.32e-8),
           (3.27, 2.44e-8), (4.06, 4.5e-8), (5.02, 8.8e-8), (5.97, 1.8e-7), (6.92, 3.5e-7), (7.87, 6.5e-7), (8.44, 1e-6),
           (10, 1.9e-6)]
u239_m1 = [(0.95, 5.3e-10), (1.21, 1.38e-9), (1.52, 3.1e-9), (1.9, 1.08e-8), (2.16, 8.9e-9), (2.48, 1.49e-8), (2.79, 1.32e-8),
           (3.17, 8.7e-9), (3.59, 8.1e-9), (4.0, 7.1e-9), (4.32, 9.7e-9), (4.63, 1.46e-8), (4.95, 1.76e-8), (5.27, 1.32e-8),
           (5.59, 1.54e-8), (5.97, 1.99e-8), (6.35, 2.7e-8), (6.76, 4.4e-8), (7.17, 2.44e-8), (7.56, 1.62e-8),
           (8.03, 1.54e-8), (8.44, 1.07e-8), (8.83, 8.9e-9), (9.14, 5.8e-9), (9.56, 4.8e-9), (10, 3.85e-9)]
u239_blue = [(3.27, 1.14e-7), (3.43, 8.4e-8), (3.49, 6.8e-8), (3.59, 9.2e-8), (3.68, 4.4e-8), (3.75, 1.0e-7), (3.9, 1.2e-7),
             (4.0, 9.5e-8), (4.06, 1.33e-7), (4.13, 8.4e-8), (4.22, 1.0e-7), (3.55, 5.5e-8)]
u239_red = [(3.49, 3.1e-8), (3.52, 2.4e-8), (3.56, 1.7e-8), (3.59, 1.45e-8), (3.68, 2e-8), (3.84, 1.4e-8), (3.9, 1.8e-8),
            (4.0, 1.2e-8), (4.06, 2.7e-8), (4.13, 2.2e-8), (3.59, 4.5e-8), (4.63, 3e-8), (4.63, 2.3e-8), (3.75, 1.1e-8),
            (4.05, 1.0e-8)]
gut239_x = [0.98, 1.21, 1.37, 1.52, 1.68, 1.84, 2.0, 2.16, 2.32, 2.48, 2.63, 2.79, 2.95, 3.11, 3.27, 3.43, 3.59, 3.75,
            3.9, 4.06, 4.22]
gut239_y = [1.9e-8, 2e-8, 2.2e-8, 3.2e-8, 3.9e-8, 4.3e-8, 4.8e-8, 5e-8, 5.3e-8, 5.5e-8, 5.8e-8, 6.1e-8, 6.5e-8, 7e-8,
            7.2e-8, 7.5e-8, 8.2e-8, 8.8e-8, 9.7e-8, 1.08e-7, 1.2e-7]

# 240Pu
pu240_e1 = [(0.03, 5.3e-10), (0.11, 1.18e-9), (0.27, 2.06e-9), (0.54, 3.5e-9), (0.95, 5.8e-9), (1.49, 1e-8), (2.17, 1.8e-8),
            (2.98, 3.5e-8), (3.79, 7.2e-8), (4.61, 1.46e-7), (5.42, 2.1e-7), (6.37, 3.5e-7), (7.32, 5.7e-7), (8.4, 1e-6),
            (10, 1.7e-6)]
pu240_m1 = [(0.91, 5.3e-10), (1.08, 1.18e-9), (1.36, 3.3e-9), (1.56, 7.1e-9), (1.69, 8.3e-9), (1.96, 9.7e-9), (2.24, 1.26e-8),
            (2.57, 1.75e-8), (2.85, 1.14e-8), (3.12, 7.7e-9), (3.46, 8.5e-9), (3.79, 7.5e-9), (4.0, 7.9e-9),
            (4.2, 1.14e-8), (4.47, 1.43e-8), (4.74, 1.63e-8), (4.95, 1.71e-8), (5.28, 1.4e-8), (5.62, 1.71e-8),
            (5.96, 2.1e-8), (6.37, 2.6e-8), (6.75, 4.6e-8), (6.98, 3.35e-8), (7.32, 2.1e-8), (7.66, 1.8e-8),
            (8.0, 1.26e-8), (8.4, 9.7e-9), (8.74, 9.4e-9), (9.01, 6.8e-9), (9.49, 5.1e-9), (10, 4.05e-9)]
pu240_blue = [(4.38, 1.46e-7), (4.58, 1.9e-7), (4.67, 1.8e-7), (4.74, 1.5e-7), (4.81, 1.9e-7), (4.88, 1.7e-7), (4.95, 1.6e-7),
              (4.99, 2.2e-7), (5.04, 1.75e-7), (5.08, 1.34e-7), (5.15, 1.55e-7), (5.26, 1.45e-7), (5.56, 2.4e-7),
              (5.58, 2.07e-7), (5.91, 2.2e-7), (4.85, 1.35e-7)]
pu240_red = [(4.81, 3.9e-8), (4.95, 3.8e-8), (5.05, 3.7e-8), (5.15, 3.9e-8), (5.28, 3.4e-8), (5.33, 3.6e-8), (5.38, 3.2e-8),
             (5.42, 2.1e-8), (5.46, 3e-8), (5.62, 6.3e-8), (5.66, 2.6e-8), (6.48, 2.8e-8), (6.5, 1.75e-8)]
pu240_wide = [(5.3, 1.4e-8, 4e-10, 1.4e-8)]

# panel table: label, label spot (x, y, ha in axes fraction), series, relative error sizes (blue, red)
UL = (0.09, 0.82, 'left')
PANELS = [
    (r'$^{168}\mathrm{Er}$', (0.93, 0.12, 'right'), er168_e1, er168_m1, er168_blue, er168_red, 0.12, 0.5),
    (r'$^{170}\mathrm{Tm}$', UL, tm170_e1, tm170_m1, tm170_blue, tm170_red, 0.15, 0.8),
    (r'$^{172}\mathrm{Yb}$', (0.94, 0.11, 'right'), yb172_e1, yb172_m1, yb172_blue, yb172_red, 0.06, 0.2),
    (r'$^{174}\mathrm{Yb}$', (0.92, 0.13, 'right'), yb174_e1, yb174_m1, yb174_blue, yb174_red, 0.08, 0.1),
    (r'$^{176}\mathrm{Lu}$', (0.93, 0.12, 'right'), lu176_e1, lu176_m1, lu176_blue, lu176_red, 0.1, 0.3),
    (r'$^{178}\mathrm{Hf}$', (0.07, 0.845, 'left'), hf178_e1, hf178_m1, hf178_blue, hf178_red, 0.35, 0.25),
    (r'$^{182}\mathrm{Ta}$', (0.095, 0.82, 'left'), ta182_e1, ta182_m1, ta182_blue, ta182_red, 0.2, 0.4),
    (r'$^{184}\mathrm{W}$', (0.065, 0.86, 'left'), w184_e1, w184_m1, w184_blue, w184_red, 0.15, 0.4),
    (r'$^{185}\mathrm{W}$', UL, w185_e1, w185_m1, w185_blue, w185_red, 0.2, 0.25),
    (r'$^{187}\mathrm{W}$', UL, w187_e1, w187_m1, w187_blue, w187_red, 0.15, 0.35),
    (r'$^{188}\mathrm{Os}$', (0.94, 0.14, 'right'), os188_e1, os188_m1, os188_blue, os188_red, 0.08, 0.25),
    (r'$^{189}\mathrm{Os}$', (0.93, 0.155, 'right'), os189_e1, os189_m1, os189_blue, os189_red, 0.15, 0.35),
    (r'$^{191}\mathrm{Os}$', UL, os191_e1, os191_m1, os191_blue, os191_red, 0.15, 0.06),
    (r'$^{193}\mathrm{Os}$', (0.09, 0.84, 'left'), os193_e1, os193_m1, os193_blue, [], 0.25, 0.2),
    (r'$^{192}\mathrm{Ir}$', (0.095, 0.82, 'left'), ir192_e1, ir192_m1, ir192_blue, ir192_red, 0.1, 0.35),
    (r'$^{194}\mathrm{Ir}$', (0.095, 0.82, 'left'), ir194_e1, ir194_m1, ir194_blue, [], 0.1, 0.2),
    (r'$^{195}\mathrm{Pt}$', (0.09, 0.84, 'left'), pt195_e1, pt195_m1, pt195_blue, pt195_red, 0.08, 0.4),
    (r'$^{196}\mathrm{Pt}$', (0.09, 0.82, 'left'), pt196_e1, pt196_m1, pt196_blue, [], 0.2, 0.2),
    (r'$^{197}\mathrm{Pt}$', (0.095, 0.82, 'left'), pt197_e1, pt197_m1, pt197_blue, pt197_red, 0.08, 0.3),
    (r'$^{198}\mathrm{Au}$', (0.93, 0.14, 'right'), au198_e1, au198_m1, au198_blue, au198_red, 0.15, 0.5),
    (r'$^{199}\mathrm{Pt}$', (0.09, 0.815, 'left'), pt199_e1, pt199_m1, pt199_blue, pt199_red, 0.08, 0.2),
    (r'$^{233}\mathrm{Th}$', (0.94, 0.12, 'right'), th233_e1, th233_m1, th233_blue, th233_red, 0.3, 0.6),
    (r'$^{239}\mathrm{U}$', (0.92, 0.14, 'right'), u239_e1, u239_m1, u239_blue, u239_red, 0.1, 0.2),
    (r'$^{240}\mathrm{Pu}$', (0.935, 0.12, 'right'), pu240_e1, pu240_m1, pu240_blue, pu240_red, 0.2, 0.8),
]

COL_LEFT = [82, 378, 675, 970]
ROW_TOP = [25, 297, 573, 851, 1128, 1405]
W_PX, H_PX = 246, 246
FW, FH = 1227, 1705


def pts(ax, data, color, marker, f, ms=5):
    if not data:
        return
    x, y = map(np.array, zip(*data))
    ax.errorbar(x, y, yerr=[y - y / (1 + f), y * f], fmt=marker, ms=ms, color=color, mec=color,
                elinewidth=0.8, capsize=1.5, capthick=0.6, zorder=4)


def wide(ax, data, color, marker, ms):
    for x, y, lo, hi in data:
        ax.plot([x, x], [lo, hi], color=color, lw=0.8, zorder=3)
        ax.plot([x], [y], marker, ms=ms, color=color, mfc='white' if color == 'k' else color,
                mew=0.8, zorder=5)


def ref(ax, x, y, marker, f=0.08):
    x, y = np.array(x), np.array(y)
    if marker == 'o':
        ax.errorbar(x, y, yerr=[y - y / (1 + f), y * f], fmt='o', ms=3, mfc='white', mec='k', mew=0.7,
                    color='k', elinewidth=0.6, capsize=1, zorder=5)
    else:
        ax.errorbar(x, y, yerr=[y - y / (1 + f), y * f], fmt='x', ms=3.5, mec='k', mew=0.8,
                    color='k', elinewidth=0.6, capsize=1, zorder=5)


def legend_entry(ax, xm, y, marker, text, size):
    if marker == 'o':
        ax.plot([xm], [y], 'o', ms=3, mfc='white', mec='k', mew=0.7, transform=ax.transAxes, clip_on=False)
    else:
        ax.plot([xm], [y], 'x', ms=3.5, mec='k', mew=0.8, transform=ax.transAxes, clip_on=False)
    ax.text(xm + 0.06, y, text, transform=ax.transAxes, fontsize=size, va='center', ha='left')


fig = plt.figure(figsize=(FW / 100, FH / 100), dpi=100)
axes = []
for i, (label, lpos, e1, m1, blue, red, fb, fr) in enumerate(PANELS):
    r, c = divmod(i, 4)
    ax = fig.add_axes([COL_LEFT[c] / FW, 1 - (ROW_TOP[r] + H_PX) / FH, W_PX / FW, H_PX / FH])
    axes.append(ax)
    ax.set_yscale('log')
    ax.set_xlim(0, 10)
    ax.set_ylim(YMIN, YMAX)

    x, y = zip(*e1)
    ax.plot(x, y, color=BLUE, lw=1.1, zorder=2)
    x, y = zip(*m1)
    ax.plot(x, y, color=RED, lw=1.1, zorder=2)
    pts(ax, blue, BLUE, 'o', fb)
    pts(ax, red, RED, 's', fr)

    ax.text(lpos[0], lpos[1], label, transform=ax.transAxes, fontsize=16, ha=lpos[2], va='center')

    ax.xaxis.set_major_locator(MultipleLocator(2))
    ax.xaxis.set_minor_locator(MultipleLocator(0.5))
    ax.yaxis.set_major_locator(FixedLocator([1e-9, 1e-8, 1e-7, 1e-6]))
    ax.yaxis.set_minor_locator(LogLocator(base=10, subs=np.arange(2, 10), numticks=10))
    ax.yaxis.set_minor_formatter(NullFormatter())
    ax.tick_params(which='both', direction='in', top=True, right=True, labelsize=12)
    ax.tick_params(which='major', length=5, width=0.8)
    ax.tick_params(which='minor', length=2.5, width=0.6)
    ax.tick_params(axis='x', pad=3)
    ax.tick_params(axis='y', pad=3)
    for s in ax.spines.values():
        s.set_linewidth(0.9)
    if c == 0:
        ax.set_ylabel(r'$f_{XL}$ [MeV$^{-3}$]', fontsize=15)
        ax.yaxis.set_label_coords(-0.2, 0.5)
    if r == 5:
        ax.set_xlabel(r'$\mathregular{ε_γ}$ [MeV]', fontsize=16, va='center')
        ax.xaxis.set_label_coords(0.5, -0.14)

# reference data sets
ax = axes[2]
ref(ax, agv_x, agv_y, 'o')
wide(ax, agv_wide, 'k', 'o', 3)
legend_entry(ax, 0.07, 0.9, 'o', 'Agvaanluvsan et al. (2004)', 10.5)

ax = axes[10]
ref(ax, shiz_x, shiz_y, 'o')
ref(ax, berm188_x, berm188_y, 'x', f=0.15)
legend_entry(ax, 0.06, 0.912, 'o', 'Shizuma et al. (2005)', 12)
legend_entry(ax, 0.06, 0.83, 'x', 'Berman et al. (1979)', 12)

ax = axes[11]
ref(ax, berm189_x, berm189_y, 'o')
legend_entry(ax, 0.08, 0.9, 'o', 'Berman et al. (1979)', 12)

ax = axes[13]
wide(ax, os193_wide, BLUE, 'o', 5)

ax = axes[21]
ref(ax, gut233_x, gut233_y, 'o', f=0.03)
legend_entry(ax, 0.075, 0.89, 'o', 'Guttormsen et al. (2014)', 9.5)

ax = axes[22]
ref(ax, gut239_x, gut239_y, 'o', f=0.03)
legend_entry(ax, 0.08, 0.905, 'o', 'Guttormsen et al. (2014)', 9.5)

ax = axes[23]
for x, y, lo, hi in pu240_wide:
    ax.plot([x, x], [lo, hi], color=RED, lw=0.8, zorder=3)

fig.savefig('out.png', dpi=100)
